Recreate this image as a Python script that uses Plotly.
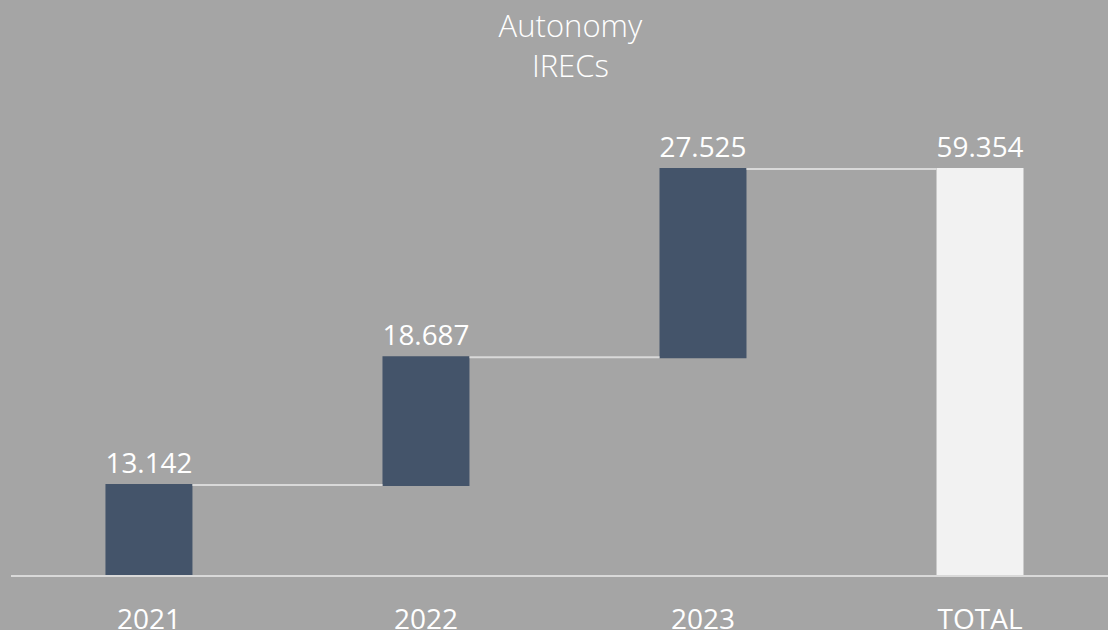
import plotly.graph_objects as go

# Yearly IREC volumes and the running total
categories = ["2021", "2022", "2023", "TOTAL"]
yearly_values = [13142, 18687, 27525]
total_value = sum(yearly_values)

values = yearly_values + [total_value]
measures = ["relative"] * len(yearly_values) + ["total"]
labels = [f"{v:,}".replace(",", ".") for v in values]

BG = "#A5A5A5"
BAR = "#44546A"
TOTAL = "#F2F2F2"
LINE = "#D9D9D9"
FONT = "Open Sans"

fig = go.Figure(
    go.Waterfall(
        x=categories,
        y=values,
        measure=measures,
        text=labels,
        textposition="outside",
        textfont=dict(family=FONT, size=28, color="white"),
        increasing=dict(marker=dict(color=BAR)),
        decreasing=dict(marker=dict(color=BAR)),
        totals=dict(marker=dict(color=TOTAL)),
        connector=dict(mode="between", line=dict(color=LINE, width=2)),
        width=0.314,
        cliponaxis=False,
        hoverinfo="skip",
    )
)

fig.update_layout(
    width=1108,
    height=630,
    paper_bgcolor=BG,
    plot_bgcolor=BG,
    margin=dict(l=11, r=0, t=100, b=55, autoexpand=False),
    showlegend=False,
    title=dict(
        text="Autonomy<br>IRECs",
        x=565 / 1108,
        xanchor="center",
        xref="paper",
        y=0.942,
        yanchor="top",
        font=dict(family=FONT, size=31, color="white", weight=300),
    ),
    xaxis=dict(
        range=[-0.498, 3.462],
        automargin=False,
        showline=True,
        linecolor=LINE,
        linewidth=2,
        showgrid=False,
        zeroline=False,
        ticks="",
        tickfont=dict(family=FONT, size=28, color="white"),
        ticklabelstandoff=18,
    ),
    yaxis=dict(
        range=[0, 69444],
        visible=False,
        automargin=False,
        showgrid=False,
        zeroline=False,
    ),
)

fig.write_html("out.html")
